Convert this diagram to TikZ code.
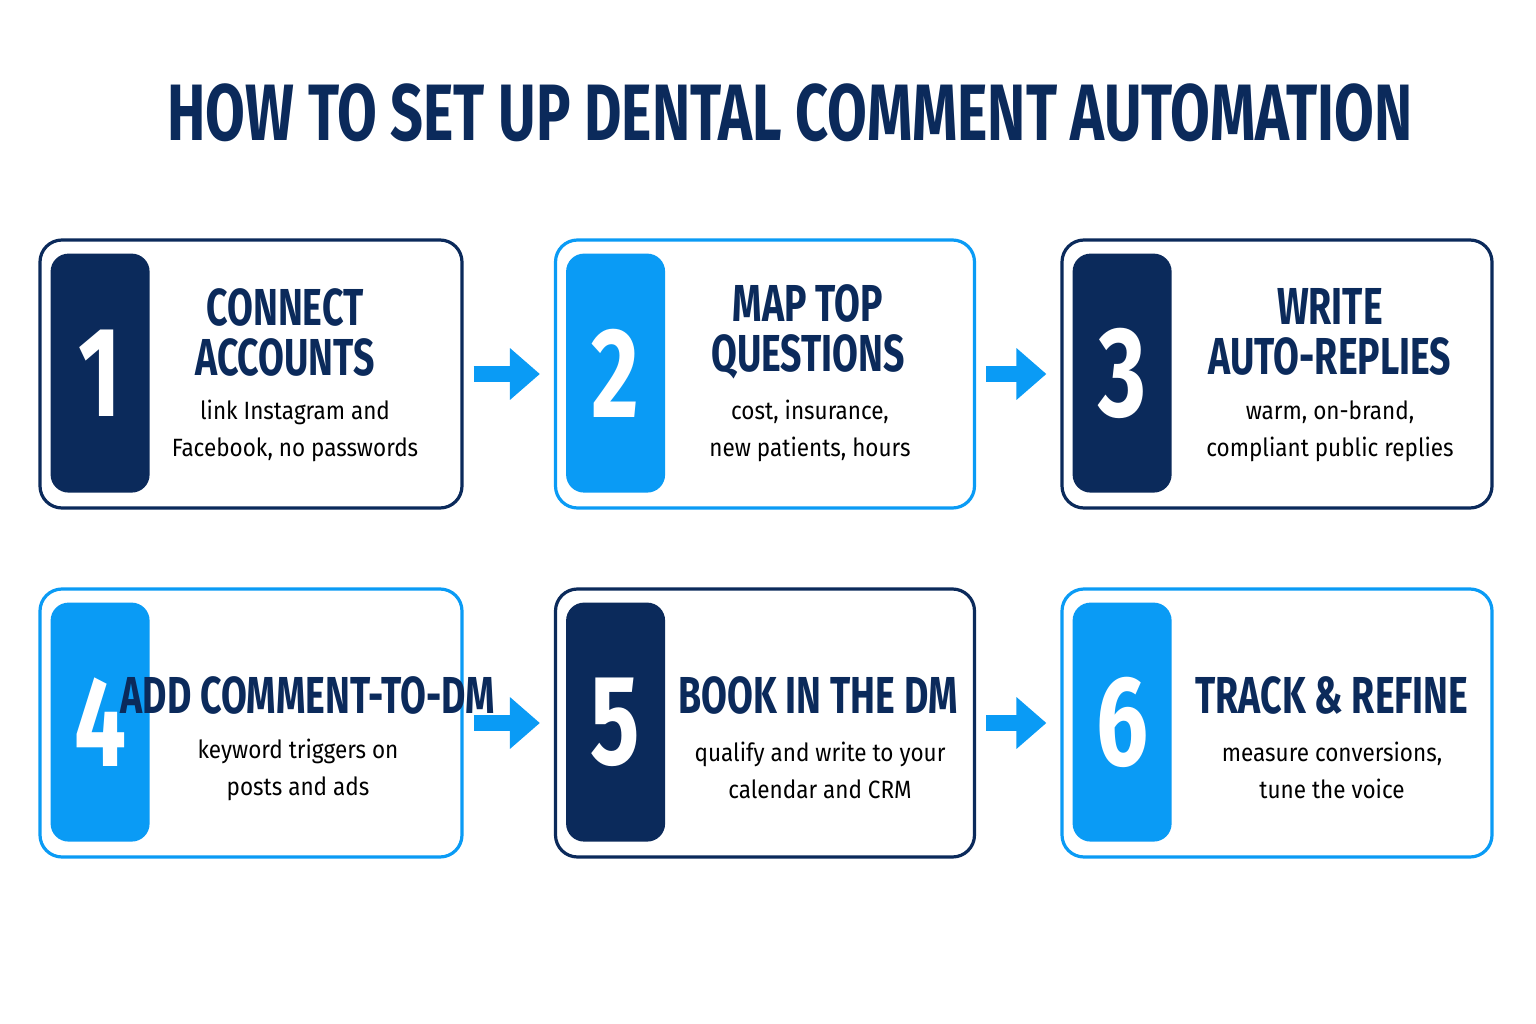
\documentclass[tikz,border=0pt]{standalone}
\usepackage{fontspec}
\setmainfont{Fira Sans}
\newfontfamily\headfont[FakeStretch=0.72]{Fira Sans Bold}
\newfontfamily\bodyfont[FakeStretch=0.9]{Fira Sans}
\usetikzlibrary{arrows.meta}
\definecolor{navy}{HTML}{0B2A5B}
\definecolor{sky}{HTML}{0A9BF5}
\tikzset{
  step/.style={draw=#1, line width=3.2pt, rounded corners=22pt, fill=white,
    minimum height=268pt, inner sep=0pt},
  tab/.style={fill=#1, rounded corners=18pt, minimum width=99pt, minimum height=239pt,
    inner sep=0pt, anchor=north west, text=white, font=\headfont\fontsize{128}{128}\selectfont},
  head/.style={text=navy, align=center, font=\headfont\fontsize{52}{50}\selectfont},
  body/.style={text=black, align=center, font=\bodyfont\fontsize{25}{37}\selectfont},
  flow/.style={sky, line width=16pt, -{Triangle[length=30pt,width=50pt]}}
}
\begin{document}
\begin{tikzpicture}[x=1pt,y=-1pt]
\useasboundingbox (0,0) rectangle (1536,1024);
\node[text=navy, font=\headfont\fontsize{80}{80}\selectfont] (title) at (790,113) {HOW TO SET UP DENTAL COMMENT AUTOMATION};
% boxes
\node[step=navy, minimum width=422pt] (b1) at (251,374) {};
\node[step=sky,  minimum width=419pt] (b2) at (765,374) {};
\node[step=navy, minimum width=430pt] (b3) at (1277,374) {};
\node[step=sky,  minimum width=422pt] (b4) at (251,723) {};
\node[step=navy, minimum width=419pt] (b5) at (765,723) {};
\node[step=sky,  minimum width=430pt] (b6) at (1277,723) {};
% number tabs
\node[tab=navy] (t1) at ([xshift=12pt,yshift=-15pt]b1.north west) {1};
\node[tab=sky]  (t2) at ([xshift=12pt,yshift=-15pt]b2.north west) {2};
\node[tab=navy] (t3) at ([xshift=12pt,yshift=-15pt]b3.north west) {3};
\node[tab=sky]  (t4) at ([xshift=12pt,yshift=-15pt]b4.north west) {4};
\node[tab=navy] (t5) at ([xshift=12pt,yshift=-15pt]b5.north west) {5};
\node[tab=sky]  (t6) at ([xshift=12pt,yshift=-15pt]b6.north west) {6};
% texts
\node[head] (h1) at (285,332) {CONNECT\\ACCOUNTS};
\node[body] (d1) at (295,431) {link Instagram and\\Facebook, no passwords};
\node[head] (h2) at (808,332) {MAP TOP\\QUESTIONS};
\node[body] (d2) at (810,431) {cost, insurance,\\new patients, hours};
\node[head] (h3) at (1330,332) {WRITE\\AUTO-REPLIES};
\node[body] (d3) at (1330,431) {warm, on-brand,\\compliant public replies};
\node[head] (h4) at (308,695) {ADD COMMENT-TO-DM};
\node[body] (d4) at (298,770) {keyword triggers on\\posts and ads};
\node[head] (h5) at (818,695) {BOOK IN THE DM};
\node[body] (d5) at (820,770) {qualify and write to your\\calendar and CRM};
\node[head] (h6) at (1332,695) {TRACK \& REFINE};
\node[body] (d6) at (1332,770) {measure conversions,\\tune the voice};
% arrows
\draw[flow] ([xshift=10pt]b1.east) -- ([xshift=-14pt]b2.west);
\draw[flow] ([xshift=10pt]b2.east) -- ([xshift=-14pt]b3.west);
\draw[flow] ([xshift=10pt]b4.east) -- ([xshift=-14pt]b5.west);
\draw[flow] ([xshift=10pt]b5.east) -- ([xshift=-14pt]b6.west);
\end{tikzpicture}
\end{document}
